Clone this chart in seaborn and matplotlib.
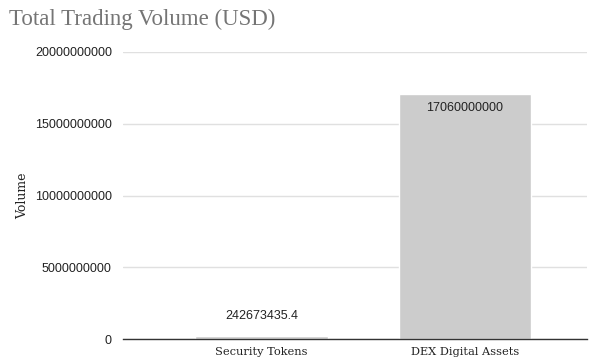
import matplotlib
matplotlib.use("Agg")
import matplotlib.pyplot as plt
import seaborn as sns
import pandas as pd

categories = ["Security Tokens", "DEX Digital Assets"]
volumes = [242673435.4, 17060000000]
bar_labels = ["242673435.4", "17060000000"]
yticks = [0, 5000000000, 10000000000, 15000000000, 20000000000]

sns.set_theme(style="white")
plt.rcParams['font.family'] = ['Liberation Sans', 'DejaVu Sans']

df = pd.DataFrame({"Category": categories, "Volume": volumes})

fig = plt.figure(figsize=(5.97, 3.6), dpi=100)
ax = fig.add_axes([123/597, 1-339/360, (587-123)/597, (339-52)/360])
sns.barplot(data=df, x="Category", y="Volume", color="#cccccc", width=0.65,
            saturation=1, ax=ax, zorder=2)

ax.set_ylim(0, 20000000000)
ax.set_xlim(-0.68, 1.60)
ax.set_yticks(yticks)
ax.set_yticklabels([str(v) for v in yticks], fontsize=9, color="#222222")
ax.yaxis.grid(True, color="#e0e0e0", linewidth=1, zorder=0)
ax.tick_params(axis='y', length=0, pad=8)
ax.tick_params(axis='x', length=0, pad=6)
for lbl in ax.get_xticklabels():
    lbl.set_fontfamily("DejaVu Serif")
    lbl.set_fontsize(8.2)
    lbl.set_color("#222222")
for s in ["top", "right", "left"]:
    ax.spines[s].set_visible(False)
ax.spines["bottom"].set_color("#333333")
ax.spines["bottom"].set_linewidth(1)
ax.spines["bottom"].set_zorder(3)

ax.set_xlabel("")
ax.set_ylabel("Volume", fontfamily="DejaVu Serif", fontsize=9, color="#222222", labelpad=4)

# bar labels
ax.bar_label(ax.containers[0], labels=[bar_labels[0], ""], padding=10, fontsize=9, color="#222222")
ax.bar_label(ax.containers[0], labels=["", bar_labels[1]], padding=-14, fontsize=9, color="#222222")

fig.text(9/597, 1-19/360, "Total Trading Volume (USD)", fontfamily="Liberation Serif",
         fontsize=16.5, color="#757575", va="center", ha="left")

fig.savefig("out.png", dpi=100)
